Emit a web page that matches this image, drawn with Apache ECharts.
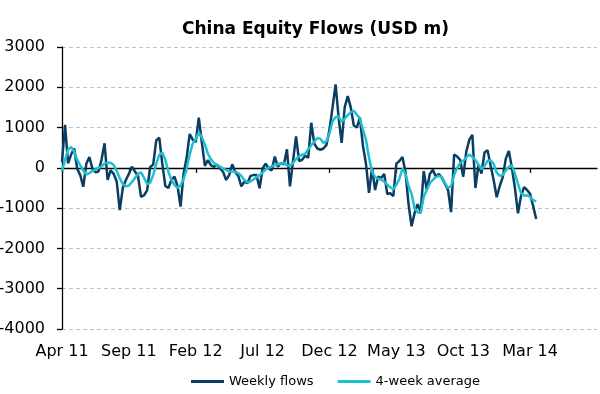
<!DOCTYPE html>
<html>
<head>
<meta charset="utf-8">
<script src="https://cdn.jsdelivr.net/npm/echarts@6/dist/echarts.min.js"></script>
<style>html,body{margin:0;padding:0;background:#fff}#c{width:600px;height:394px}</style>
</head>
<body>
<div id="c"></div>
<script>
// Weekly flows, USD m, one value per week from Apr 2011
var weeklyFlows = [150,1070,110,330,480,-20,-180,-470,100,270,
-20,-110,-90,200,610,-300,-60,-150,-340,-1050,
-500,-300,-150,30,-90,-200,-720,-680,-560,20,
80,680,750,100,-450,-500,-300,-220,-450,-960,
-140,250,840,700,640,1245,635,50,190,65,
25,80,-15,-100,-300,-180,90,-100,-200,-460,
-340,-380,-200,-180,-180,-505,-10,105,-20,-60,
280,30,120,90,460,-460,170,780,170,200,
300,250,1120,600,480,450,480,570,950,1500,
2070,1250,620,1500,1780,1500,1050,1000,1250,550,
100,-620,0,-550,-220,-250,-150,-650,-630,-700,
105,170,270,-100,-900,-1450,-1120,-900,-1100,-80,
-550,-150,-50,-220,-150,-250,-400,-550,-1100,330,
280,200,-220,400,700,820,-500,70,-140,380,
440,60,-300,-730,-450,-230,230,420,0,-500,
-1130,-700,-480,-550,-650,-950,-1270];
// 4-week average, USD m
var fourWeekAvg = [-80,200,450,520,400,200,60,-60,-170,-130,
-80,-40,0,30,110,130,125,70,-80,-260,
-400,-460,-440,-350,-250,-150,-110,-250,-400,-370,
-180,100,320,380,200,-100,-300,-420,-500,-440,
-280,-30,330,600,720,870,760,580,350,210,
120,60,30,-20,-50,-90,-90,-100,-130,-200,
-300,-360,-340,-290,-230,-180,-120,-40,0,40,
70,90,110,120,60,50,120,220,290,320,
350,460,560,650,740,720,620,660,860,1150,
1260,1280,1140,1220,1310,1380,1420,1320,1230,950,
700,250,-100,-230,-270,-290,-340,-420,-480,-530,
-420,-270,-20,-150,-450,-650,-1000,-1100,-1120,-720,
-550,-380,-300,-230,-200,-230,-380,-500,-450,-180,
0,120,170,260,330,270,200,80,-30,50,
170,190,100,-120,-200,-180,-60,30,60,-150,
-400,-620,-690,-680,-720,-800,-830];
var seriesNames = ['Weekly flows', '4-week average'];
var yTicks = {min: -4000, max: 3000, step: 1000};
var monthNames = ['Jan','Feb','Mar','Apr','May','Jun','Jul','Aug','Sep','Oct','Nov','Dec'];
var firstWeek = Date.UTC(2011, 3, 6);   // first weekly observation
var axisWeeks = 177;                    // weeks spanned by the category axis
var labelEvery = 22;                    // one label / tick every 22 weeks
var lastLabelIndex = 154;               // "Mar 14"

var categories = [];
for (var i = 0; i < axisWeeks; i++) {
  var d = new Date(firstWeek + i * 7 * 86400000);
  categories.push(monthNames[d.getUTCMonth()] + ' ' + String(d.getUTCFullYear()).slice(2));
}
function showIdx(idx) { return idx % labelEvery === 0 && idx <= lastLabelIndex; }

var font = "'DejaVu Sans', Verdana, sans-serif";
var chart = echarts.init(document.getElementById('c'), null, {renderer: 'canvas'});
chart.setOption({
  animation: false,
  backgroundColor: '#ffffff',
  title: {
    text: 'China Equity Flows (USD m)',
    left: 182, top: 21, padding: 0,
    textStyle: {fontFamily: font, fontSize: 17, fontWeight: 'bold', color: '#000'}
  },
  legend: {
    data: seriesNames,
    left: 191, top: 375, padding: 0,
    icon: 'rect', itemWidth: 33, itemHeight: 3, itemGap: 24,
    textStyle: {fontFamily: font, fontSize: 13, color: '#000'}
  },
  grid: {left: 62, right: 3, top: 47, bottom: 65, containLabel: false, outerBoundsMode: 'none'},
  xAxis: [{
    type: 'category', data: categories, boundaryGap: false,
    axisLine: {onZero: true, lineStyle: {color: '#000', width: 1.3}},
    axisTick: {show: true, interval: function (idx) { return showIdx(idx); }, length: 5, lineStyle: {color: '#000', width: 1.3}},
    axisLabel: {show: false},
    splitLine: {show: false}
  }, {
    type: 'category', data: categories, boundaryGap: false, position: 'bottom',
    axisLine: {show: false, onZero: false},
    axisTick: {show: false},
    axisLabel: {interval: function (idx) { return showIdx(idx); }, fontFamily: font, fontSize: 16, color: '#000', margin: 15},
    splitLine: {show: false}
  }],
  yAxis: {
    type: 'value', min: yTicks.min, max: yTicks.max, interval: yTicks.step,
    axisLine: {show: true, lineStyle: {color: '#000', width: 1.3}},
    axisTick: {show: true, length: 5, lineStyle: {color: '#000', width: 1.3}},
    axisLabel: {fontFamily: font, fontSize: 16, color: '#000', margin: 17,
      formatter: function (v) { return String(v); }},
    splitLine: {show: true, lineStyle: {color: '#b7c6d3', type: [4, 3], width: 1}}
  },
  series: [{
    name: seriesNames[0], type: 'line', data: weeklyFlows, xAxisIndex: 0,
    showSymbol: false, symbol: 'none',
    lineStyle: {color: '#0a3d62', width: 2.5}, itemStyle: {color: '#0a3d62'}
  }, {
    name: seriesNames[1], type: 'line', data: fourWeekAvg, xAxisIndex: 0,
    showSymbol: false, symbol: 'none',
    lineStyle: {color: '#1dbfd3', width: 2.5}, itemStyle: {color: '#1dbfd3'}
  }]
});
</script>
</body>
</html>
